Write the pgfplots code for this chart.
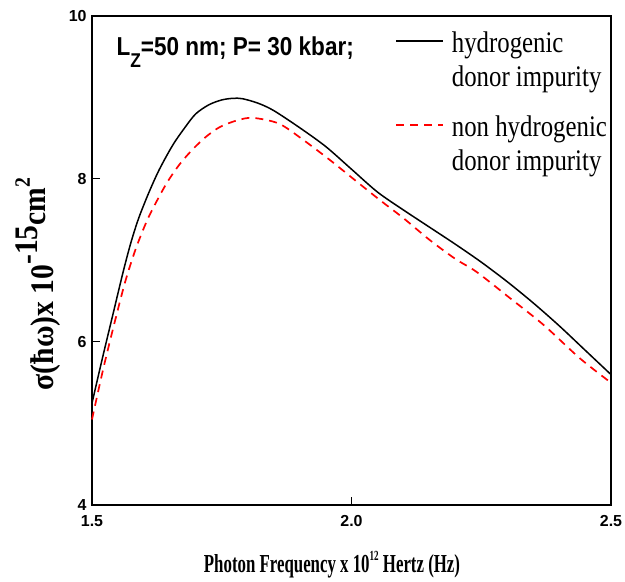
\documentclass[border=0pt]{standalone}
\usepackage{pgfplots}
\pgfplotsset{compat=1.18}
\usepackage{fontspec}
\setmainfont{Liberation Serif}
\newfontfamily\sansf{Liberation Sans}
\usepackage{graphicx}

\begin{document}
\begin{tikzpicture}
\path[use as bounding box] (0,0) rectangle (625bp,582bp);
\begin{axis}[
  at={(92bp,77bp)}, anchor=south west,
  scale only axis, width=519bp, height=489bp,
  xmin=1.5, xmax=2.5, ymin=4, ymax=10,
  xtick={1.5,2.0,2.5}, ytick={4,6,8,10},
  xtick pos=left, ytick pos=left,
  tick align=inside,
  major tick length=8bp,
  axis line style={line width=1.5bp},
  tick style={line width=1bp, black},
  clip=false,
  /pgf/number format/assume math mode=true,
  ticklabel style={font=\sansf\bfseries\fontsize{16}{17}\selectfont},
  x tick label style={yshift=-7bp, /pgf/number format/.cd, fixed, fixed zerofill, precision=1},
  y tick label style={xshift=-2bp, /pgf/number format/.cd, fixed, precision=0},
  xlabel={\scalebox{0.65}[1]{Photon Frequency x 10\raisebox{0.45em}{\fontsize{14}{14}\selectfont 12} Hertz (Hz)}},
  xlabel style={at={(rel axis cs:0.4624,-0.1227)}, anchor=center, font=\bfseries\fontsize{26}{30}\selectfont},
  ylabel={\scalebox{0.9}[1]{σ(ħω)x 10\raisebox{0.5em}{-15}\raisebox{0.25em}{cm}\raisebox{0.72em}{\fontsize{22}{22}\selectfont 2}}},
  ylabel style={at={(rel axis cs:-0.104,0.452)}, anchor=center, font=\bfseries\fontsize{33}{36}\selectfont},
  legend style={at={(rel axis cs:0.5838,0.968)}, anchor=north west, draw=none, fill=none,
    cells={anchor=west}, nodes={inner sep=0pt, text height=, text depth=},
    column sep=8bp, row sep=6bp, inner sep=0pt,
    font=\fontsize{30}{36}\selectfont},
  legend cell align=left,
  legend image code/.code={\draw[#1] (0bp,5bp) -- (47bp,5bp); \path (0bp,-5bp);},
]
\addplot[black, line width=1.5bp, smooth, forget plot] coordinates {
(1.500,5.25) (1.520,5.80) (1.540,6.33) (1.560,6.86) (1.575,7.22) (1.590,7.52)
(1.610,7.84) (1.630,8.12) (1.656,8.42) (1.680,8.64) (1.700,8.80) (1.725,8.91)
(1.750,8.97) (1.772,8.99) (1.790,8.985) (1.820,8.93) (1.850,8.84) (1.900,8.63)
(1.950,8.40) (2.000,8.12) (2.050,7.84) (2.100,7.62) (2.150,7.41) (2.200,7.20)
(2.250,6.98) (2.300,6.74) (2.350,6.48) (2.400,6.20) (2.450,5.90) (2.500,5.60)
};
\addplot[red, line width=1.7bp, dash pattern=on 8bp off 6bp, smooth, forget plot] coordinates {
(1.500,5.05) (1.522,5.68) (1.544,6.25) (1.564,6.74) (1.583,7.12) (1.600,7.40)
(1.615,7.61) (1.644,7.95) (1.670,8.19) (1.695,8.37) (1.720,8.52) (1.747,8.64)
(1.780,8.72) (1.810,8.75) (1.860,8.68) (1.907,8.48) (1.959,8.23) (2.000,8.02)
(2.055,7.74) (2.100,7.52) (2.151,7.25) (2.200,7.02) (2.241,6.86) (2.305,6.54)
(2.370,6.21) (2.440,5.80) (2.500,5.50)
};
\addlegendimage{black, line width=1.5bp}
\addlegendentry{\rule[-7bp]{0pt}{28bp}\scalebox{0.83}[1]{hydrogenic}}
\addlegendimage{empty legend}
\addlegendentry{\rule[-23bp]{0pt}{44bp}\scalebox{0.83}[1]{donor impurity}}
\addlegendimage{red, line width=1.7bp, dash pattern=on 8bp off 6bp}
\addlegendentry{\rule[-7bp]{0pt}{28bp}\scalebox{0.83}[1]{non hydrogenic}}
\addlegendimage{empty legend}
\addlegendentry{\rule[-7bp]{0pt}{28bp}\scalebox{0.83}[1]{donor impurity}}
\node[anchor=base west, font=\sansf\bfseries\fontsize{26}{30}\selectfont] at (rel axis cs:0.0405,0.920)
  {\scalebox{0.87}[1]{L\raisebox{-12bp}{\fontsize{20}{20}\selectfont Z}=50 nm; P= 30 kbar;}};
\end{axis}
\end{tikzpicture}
\end{document}
